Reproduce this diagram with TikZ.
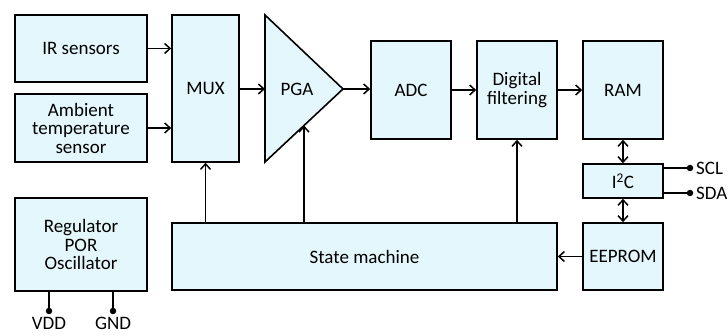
\documentclass[tikz,border=0pt]{standalone}
\usepackage{fontspec}
\setmainfont{Carlito}
\usetikzlibrary{arrows.meta}
\definecolor{boxfill}{RGB}{228,247,252}
\tikzset{
  txt/.style={font=\fontsize{19}{18.5}\selectfont},
  blk/.style={draw=black, fill=boxfill, line width=1.6pt, align=center,
    inner sep=2pt, txt},
  wire/.style={line width=1.6pt},
  tip/.tip={Straight Barb[length=5.5pt,width=10pt,line width=1.5pt]},
  arr/.style={wire, -tip},
  biarr/.style={wire, tip-tip},
  pin/.style={circle, fill=black, inner sep=0pt, minimum size=6.5pt},
  pinlabel/.style={inner sep=0pt, txt},
}
\begin{document}
\begin{tikzpicture}[x=1pt, y=-1pt]
\useasboundingbox (0,0) rectangle (728,336);

% front-end blocks
\node[blk, minimum width=132pt, minimum height=67pt] (ir) at (81,48.5) {IR sensors};
\node[blk, minimum width=132pt, minimum height=68pt] (amb) at (81,128) {Ambient\\temperature\\sensor};
\node[blk, minimum width=67pt, minimum height=147pt] (mux) at (205.5,88.5) {MUX};

% programmable gain amplifier
\coordinate (pgaTL) at (265,15);
\coordinate (pgaBL) at (265,162);
\coordinate (pgaOut) at (343,89);
\coordinate (pgaIn) at (265,89);
\coordinate (pgaCtl) at (304,125.5);
\draw[line width=1.6pt, fill=boxfill, line join=miter] (pgaTL) -- (pgaOut) -- (pgaBL) -- cycle;
\node[pinlabel] (pga) at (297,89) {PGA};

% digital chain
\node[blk, minimum width=80pt, minimum height=98pt] (adc) at (411,90) {ADC};
\node[blk, minimum width=80pt, minimum height=98pt] (dig) at (517,90) {Digital\\filtering};
\node[blk, minimum width=80pt, minimum height=98pt] (ram) at (623,90) {RAM};
\node[blk, minimum width=80pt, minimum height=34pt] (i2c) at (623,181) {I\textsuperscript{2}C};
\node[blk, minimum width=80pt, minimum height=67pt] (eeprom) at (623,256.5) {EEPROM};
\node[blk, minimum width=385pt, minimum height=67pt] (sm) at (364.5,256.5) {State machine};
\node[blk, minimum width=132pt, minimum height=93pt] (reg) at (81,244.5) {Regulator\\POR\\Oscillator};

% signal path
\draw[arr] (ir.east) -- (mux.west |- ir.east);
\draw[arr] (amb.east) -- (mux.west |- amb.east);
\draw[arr] (mux.east |- pgaIn) -- (pgaIn);
\draw[arr] (pgaOut) -- (adc.west |- pgaOut);
\draw[arr] (adc.east) -- (dig.west);
\draw[arr] (dig.east) -- (ram.west);

% control from the state machine
\draw[arr] (sm.north -| mux) -- (mux.south);
\draw[arr] (sm.north -| pgaCtl) -- (pgaCtl);
\draw[arr] (sm.north -| dig) -- (dig.south);

% memory and interface
\draw[biarr] (ram.south) -- (i2c.north);
\draw[biarr] (i2c.south) -- (eeprom.north);
\draw[arr] (eeprom.west) -- (sm.east |- eeprom.west);

% serial pins
\node[pin] (scl) at (690,168) {};
\node[pin] (sda) at (690,193) {};
\draw[wire] (i2c.east |- scl) -- (scl);
\draw[wire] (i2c.east |- sda) -- (sda);
\node[pinlabel, anchor=west] (scllbl) at (696,168) {SCL};
\node[pinlabel, anchor=west] (sdalbl) at (696,193) {SDA};

% supply pins
\node[pin] (vdd) at (49,311) {};
\node[pin] (gnd) at (113,311) {};
\draw[wire] (reg.south -| vdd) -- (vdd);
\draw[wire] (reg.south -| gnd) -- (gnd);
\node[pinlabel, anchor=north] (vddlbl) at (49,317) {VDD};
\node[pinlabel, anchor=north] (gndlbl) at (113,317) {GND};
\end{tikzpicture}
\end{document}
